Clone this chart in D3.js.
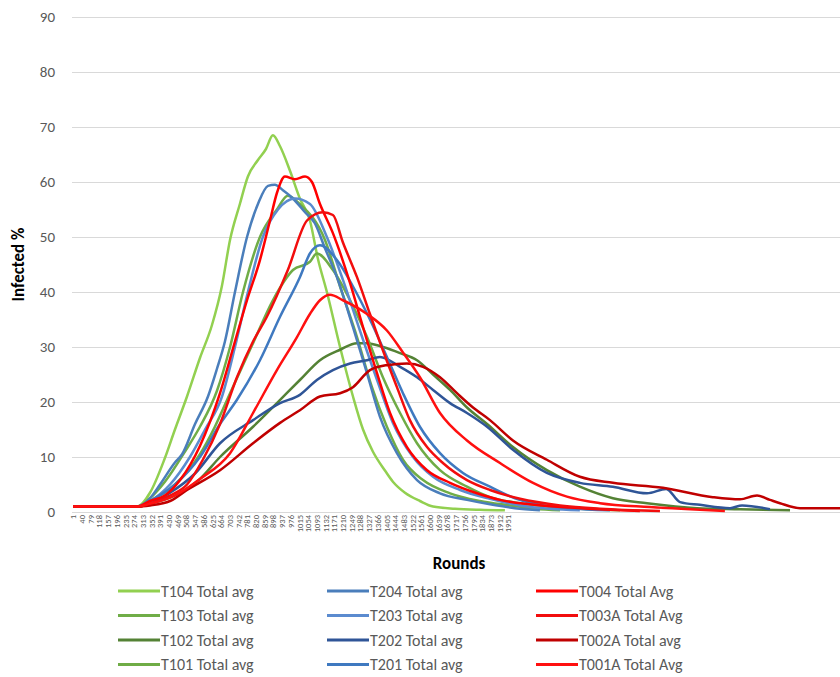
<!DOCTYPE html>
<html>
<head>
<meta charset="utf-8">
<script src="https://cdnjs.cloudflare.com/ajax/libs/d3/7.8.5/d3.min.js"></script>
<style>
  body { margin: 0; background: #fff; }
  text { font-family: Carlito, "Liberation Sans Narrow", "Liberation Sans", sans-serif; }
</style>
</head>
<body>
<div id="chart"></div>
<script>

// category labels shown under the x axis (every 39th round)
var roundTicks = [1,40,79,118,157,196,235,274,313,352,391,430,469,508,547,586,625,664,703,742,781,
  820,859,898,937,976,1015,1054,1093,1132,1171,1210,1249,1288,1327,1366,1405,1444,1483,1522,1561,
  1600,1639,1678,1717,1756,1795,1834,1873,1912,1951];
var yTicks = [0,10,20,30,40,50,60,70,80,90];
var lastRound = 3439;

// [round, infected %]
var t104 = [[1,1],[290,1],[346,3.5],[410,9.5],[458,15],[512,21],[570,28],[624,34],[668,41],[705,49.5],[749,56],[785,61],[830,64],[866,66],[897,68.5],[929,66.5],[974,62],[1018,57],[1063,53],[1099,46],[1139,40],[1198,30],[1256,21],[1301,15],[1345,11],[1400,7.5],[1435,5.5],[1489,3.5],[1556,2],[1615,1],[1713,0.6],[1825,0.4],[1937,0.3]];
var t103 = [[1,1],[290,1],[346,2.5],[413,5.5],[503,11],[570,15.5],[646,22],[705,30],[763,40],[839,50],[915,55],[964,57.5],[1018,56],[1130,49.5],[1198,41],[1274,31.8],[1341,22.7],[1408,15.5],[1480,9.5],[1570,5.8],[1691,3.4],[1825,2],[1960,1.2],[2072,0.6],[2184,0.3]];
var t102 = [[1,1],[290,1],[346,1.5],[458,3],[570,6],[660,10],[808,15.5],[915,19.8],[1018,24],[1108,27.6],[1198,29.5],[1274,30.7],[1319,30.7],[1390,30],[1467,28.9],[1543,27.6],[1615,25],[1691,22.2],[1767,19],[1857,16],[1973,11.8],[2125,7.6],[2273,4.6],[2421,2.5],[2574,1.6],[2798,0.7],[2991,0.5],[3215,0.3]];
var t101 = [[1,1],[290,1],[346,2],[458,5],[570,10.5],[637,15.5],[705,21.6],[808,30.7],[897,38.5],[987,44],[1063,45.5],[1094,47],[1166,44],[1243,38.5],[1319,31.8],[1390,24.5],[1467,18],[1543,12.5],[1646,7.6],[1767,4.6],[1870,2.7],[2005,1.6],[2139,1],[2318,0.5],[2453,0.3]];

var t204 = [[1,1],[290,1],[346,2.5],[391,5],[458,9],[490,10.5],[548,16],[606,21],[646,26],[682,31],[727,40],[781,50],[830,56],[875,59.3],[906,59.5],[942,58.5],[987,57],[1041,54.5],[1085,52.5],[1130,48],[1184,42.7],[1256,33.6],[1319,25.2],[1377,17.3],[1453,10.7],[1543,5.8],[1646,3.4],[1767,2.2],[1870,1.4],[1982,0.7],[2094,0.3]];
var t203 = [[1,1],[290,1],[346,2],[436,5],[525,10],[593,15],[669,21],[727,30],[785,40],[852,50],[920,55],[996,57],[1063,56],[1139,50],[1211,42.2],[1287,33],[1364,24],[1435,16.2],[1525,10],[1615,6.4],[1736,4],[1870,2.4],[2005,1.2],[2139,0.6],[2273,0.3]];
var t202 = [[1,1],[290,1],[346,1.5],[436,3.5],[548,7],[660,12.5],[808,16.7],[929,19.8],[1018,21.3],[1094,24],[1166,25.8],[1243,27],[1319,27.6],[1377,28.2],[1467,26.4],[1543,24.5],[1615,22.2],[1691,19.8],[1767,18],[1857,15.5],[1973,11.3],[2125,7.1],[2273,5.3],[2421,4.6],[2574,3.4],[2660,4.2],[2722,1.8],[2811,1.3],[2946,0.7],[3000,1.2],[3125,0.5]];
var t201 = [[1,1],[290,1],[346,2],[458,5],[570,10],[660,16],[736,20.4],[839,27.6],[929,35.5],[1018,42.7],[1063,47],[1108,48.5],[1184,45.8],[1256,41],[1332,35],[1408,28.2],[1480,21.6],[1556,15.5],[1646,10.7],[1749,7.1],[1870,4.6],[1982,2.5],[2094,1.3],[2228,0.7],[2408,0.3]];

var t004 = [[1,1],[290,1],[346,2],[413,3],[481,5.8],[570,12],[660,21.6],[727,31],[781,38.5],[839,45.8],[884,53],[915,58],[951,61],[996,60.5],[1041,61],[1072,60],[1108,56],[1166,50.7],[1243,41.6],[1301,33.6],[1364,25.2],[1422,18],[1498,11.8],[1588,7.6],[1691,5.3],[1812,3.4],[1915,2.2],[2050,1.4],[2228,0.8],[2408,0.4],[2542,0.2]];
var t003a = [[1,1],[290,1],[346,1.5],[436,3],[512,5],[583,9.5],[660,16],[736,24.5],[808,31],[870,35.5],[964,44],[1050,53],[1121,54.5],[1166,54],[1211,49],[1274,42.7],[1332,36],[1390,29.4],[1453,22.7],[1511,16.7],[1588,11.8],[1659,8.9],[1767,5.8],[1870,4],[2005,2.4],[2184,1.2],[2363,0.6],[2632,0.2]];
var t002a = [[1,1],[290,1],[346,1.2],[436,2],[512,4],[660,7.6],[808,12.5],[929,16.2],[1018,18.5],[1108,21],[1198,21.6],[1256,22.7],[1332,25.8],[1408,26.7],[1498,27],[1570,26.4],[1646,24.5],[1722,21.6],[1794,19],[1870,16.7],[1973,13],[2125,9.5],[2273,6.4],[2421,5.3],[2645,4.4],[2869,2.7],[2991,2.3],[3067,3],[3125,2.2],[3170,1.6],[3260,0.7],[3439,0.7]];
var t001a = [[1,1],[290,1],[346,1.5],[458,3],[570,6],[705,10.7],[808,18],[915,25.8],[1005,31.8],[1063,36],[1108,38.5],[1153,39.5],[1211,38.5],[1319,36],[1408,33],[1480,29],[1556,24.5],[1646,18],[1767,13],[1915,8.9],[2063,5.3],[2215,2.8],[2363,1.6],[2587,0.9],[2811,0.4],[2923,0.2]];

var seriesNames = ["T104 Total avg","T103 Total avg","T102 Total avg","T101 Total avg",
  "T204 Total avg","T203 Total avg","T202 Total avg","T201 Total avg",
  "T004 Total Avg","T003A Total Avg","T002A Total avg","T001A Total Avg"];
var seriesValues = [t104,t103,t102,t101,t204,t203,t202,t201,t004,t003a,t002a,t001a];
var seriesColors = ["#92d050","#70ad47","#548235","#6fac46",
  "#4a7ebb","#5b8bcf","#2f5597","#3f79c0",
  "#ff0000","#f20d0d","#c00000","#ff1010"];


var width = 840, height = 677;
var margin = { top: 17, left: 73, bottom: 165 };

var svg = d3.select("#chart").append("svg")
  .attr("width", width)
  .attr("height", height);

var xScale = d3.scaleLinear().domain([1, lastRound]).range([margin.left, width]);
var yScale = d3.scaleLinear().domain([0, 90]).range([height - margin.bottom, margin.top]);

// gridlines
svg.append("g")
  .selectAll("line")
  .data(yTicks)
  .enter().append("line")
  .attr("x1", margin.left - 1)
  .attr("x2", width)
  .attr("y1", function (d) { return yScale(d) + 0.5; })
  .attr("y2", function (d) { return yScale(d) + 0.5; })
  .attr("stroke", "#d9d9d9")
  .attr("stroke-width", 1);

// y labels
svg.append("g")
  .selectAll("text")
  .data(yTicks)
  .enter().append("text")
  .attr("x", 55)
  .attr("y", function (d) { return yScale(d); })
  .attr("dy", "0.35em")
  .attr("text-anchor", "end")
  .attr("font-size", 15)
  .attr("fill", "#595959")
  .text(function (d) { return d; });

// x axis with rotated category labels
var xAxis = d3.axisBottom(xScale).tickValues(roundTicks).tickSize(0).tickFormat(d3.format("d"));
var gx = svg.append("g")
  .attr("transform", "translate(0," + yScale(0) + ")")
  .call(xAxis);
gx.select(".domain").remove();
gx.selectAll("text")
  .attr("transform", "rotate(-90)")
  .attr("text-anchor", "end")
  .attr("x", -3)
  .attr("y", 0)
  .attr("dy", "0.33em")
  .attr("font-size", 8.5)
  .attr("font-family", "Carlito, 'Liberation Sans Narrow', 'Liberation Sans', sans-serif")
  .attr("fill", "#595959");

// series
var line = d3.line()
  .x(function (d) { return xScale(d[0]); })
  .y(function (d) { return yScale(d[1]); })
  .curve(d3.curveMonotoneX);

svg.append("g")
  .selectAll("path")
  .data(seriesValues)
  .enter().append("path")
  .attr("d", line)
  .attr("fill", "none")
  .attr("stroke", function (d, i) { return seriesColors[i]; })
  .attr("stroke-width", 2.5)
  .attr("stroke-linejoin", "round");

// axis titles
svg.append("text")
  .attr("transform", "translate(24," + (yScale(45)) + ") rotate(-90)")
  .attr("text-anchor", "middle")
  .attr("font-size", 17)
  .attr("font-weight", "bold")
  .attr("fill", "#000")
  .text("Infected %");

svg.append("text")
  .attr("x", 459)
  .attr("y", 569)
  .attr("text-anchor", "middle")
  .attr("font-size", 17)
  .attr("font-weight", "bold")
  .attr("fill", "#000")
  .text("Rounds");

// legend, 3 columns of 4
var legend = svg.append("g")
  .selectAll("g")
  .data(seriesNames)
  .enter().append("g")
  .attr("transform", function (d, i) {
    var col = Math.floor(i / 4), row = i % 4;
    return "translate(" + (118 + col * 209) + "," + (591 + row * 24.5) + ")";
  });

legend.append("line")
  .attr("x1", 0).attr("x2", 42)
  .attr("y1", 0).attr("y2", 0)
  .attr("stroke", function (d, i) { return seriesColors[i]; })
  .attr("stroke-width", 3);

legend.append("text")
  .attr("x", 43)
  .attr("y", 0)
  .attr("dy", "0.35em")
  .attr("font-size", 16)
  .attr("fill", "#595959")
  .text(function (d) { return d; });

</script>
</body>
</html>
